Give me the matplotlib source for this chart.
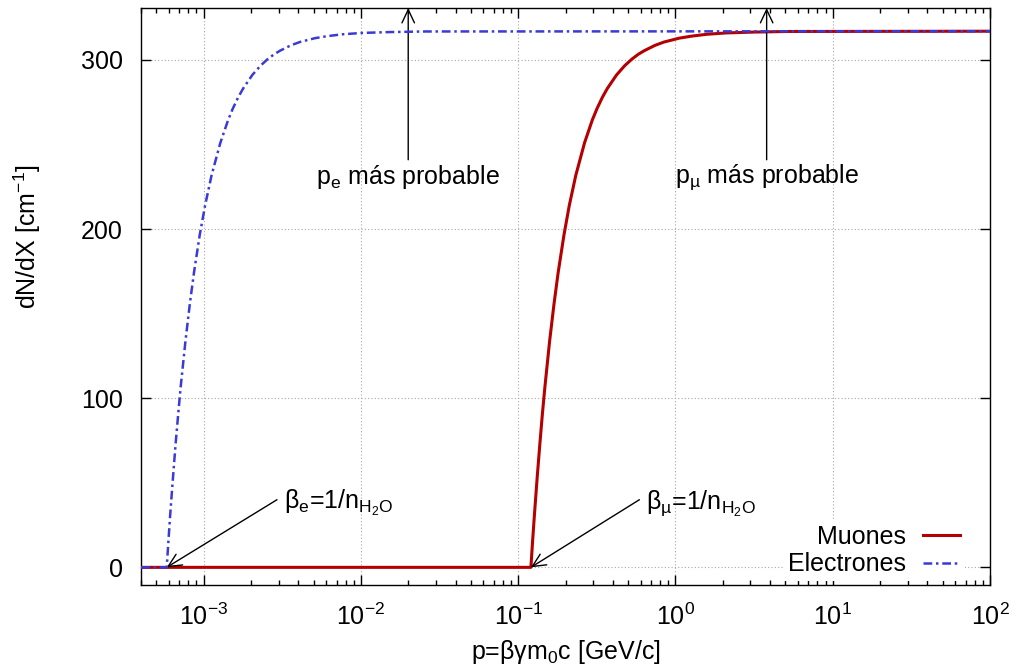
import numpy as np
import matplotlib
matplotlib.use("Agg")
import matplotlib.pyplot as plt
from matplotlib.ticker import LogLocator, NullFormatter

# momentum [GeV/c] and photon yield dN/dX [cm^-1]
p_electrones = [4.0e-4, 5.83e-4, 5.98e-4, 6.13e-4, 6.39e-4, 6.64e-4, 6.90e-4, 7.15e-4,
                7.67e-4, 8.18e-4, 8.69e-4, 9.45e-4, 1.022e-3, 1.124e-3, 1.278e-3,
                1.431e-3, 1.533e-3, 1.661e-3, 1.789e-3, 2.044e-3, 2.300e-3, 2.555e-3,
                2.811e-3, 3.066e-3, 3.577e-3, 4.088e-3, 5.11e-3, 6.13e-3, 7.67e-3,
                1.022e-2, 1.533e-2, 2.555e-2, 100.0]
dndx_electrones = [0, 0, 15.8, 30.7, 53.1, 73.0, 90.8, 106.6, 133.8, 155.9, 174.3,
                   196.5, 213.9, 231.8, 251.0, 264.4, 271.2, 278.0, 283.3, 291.2,
                   296.6, 300.5, 303.4, 305.5, 308.6, 310.6, 312.9, 314.1, 315.2,
                   316.0, 316.5, 316.85, 317.0]

p_muones = [4.0e-4, 0.1205, 0.1236, 0.1268, 0.1321, 0.1374, 0.1426, 0.1479, 0.1585,
            0.1691, 0.1796, 0.1955, 0.2113, 0.2325, 0.2642, 0.2958, 0.3170, 0.3434,
            0.3698, 0.4226, 0.4755, 0.5283, 0.5811, 0.6340, 0.7396, 0.8453, 1.057,
            1.268, 1.585, 2.113, 3.170, 5.283, 100.0]
dndx_muones = [0, 0, 15.8, 30.7, 53.1, 73.0, 90.8, 106.6, 133.8, 155.9, 174.3,
               196.5, 213.9, 231.8, 251.0, 264.4, 271.2, 278.0, 283.3, 291.2,
               296.6, 300.5, 303.4, 305.5, 308.6, 310.6, 312.9, 314.1, 315.2,
               316.0, 316.5, 316.85, 317.0]

# annotations
p_mas_probable_e = 0.02
p_mas_probable_mu = 3.8
p_umbral_e = 5.83e-4
p_umbral_mu = 0.1205

plt.rcParams['font.family'] = ['Liberation Sans', 'DejaVu Sans']
plt.rcParams['mathtext.fontset'] = 'custom'
plt.rcParams['mathtext.rm'] = 'Liberation Sans'
plt.rcParams['mathtext.it'] = 'Liberation Sans:italic'
plt.rcParams['font.size'] = 18

fig = plt.figure(figsize=(10.15, 6.71), dpi=100)
ax = fig.add_subplot(111)
fig.subplots_adjust(left=0.1389, right=0.9754, top=0.988, bottom=0.128)

ax.plot(p_muones, dndx_muones, color='#b40000', lw=2.2, label='Muones', zorder=3)
ax.plot(p_electrones, dndx_electrones, color='#3a3ad8', lw=1.8,
        ls=(0, (3.5, 1.5, 1, 1.5)), label='Electrones', zorder=4)

ax.set_xscale('log')
ax.set_xlim(4.0e-4, 100)
ax.set_ylim(-10.5, 330.7)
ax.set_yticks([0, 100, 200, 300])
ax.xaxis.set_major_locator(LogLocator(base=10, numticks=20))
ax.xaxis.set_minor_locator(LogLocator(base=10, subs=np.arange(2, 10), numticks=20))
ax.xaxis.set_minor_formatter(NullFormatter())
ax.tick_params(which='major', direction='in', length=7, width=1, top=True, right=True)
ax.tick_params(which='minor', direction='in', length=3.5, width=1, top=True, right=False)
ax.tick_params(axis='x', which='major', pad=13)
ax.tick_params(axis='y', which='major', pad=13)
for s in ax.spines.values():
    s.set_linewidth(1.0)
ax.grid(True, which='major', color='#a8a8a8', ls=(0, (1, 2)), lw=0.8)

ax.set_xlabel(r'p=$\mathregular{βγm_0}$c [GeV/c]', labelpad=6)
ax.set_ylabel(r'dN/dX [cm$\mathregular{^{-1}}$]')
ax.yaxis.set_label_coords(-0.115, 0.604)

arrow = dict(arrowstyle='->,head_length=0.95,head_width=0.45', color='black', lw=1.0,
             mutation_scale=10, shrinkA=0, shrinkB=0)
ax.annotate('', xy=(p_mas_probable_e, 330.7), xytext=(p_mas_probable_e, 241), arrowprops=arrow)
ax.text(p_mas_probable_e, 230.8, r'$\mathregular{p_e}$ más probable', ha='center', va='center')
ax.annotate('', xy=(p_mas_probable_mu, 330.7), xytext=(p_mas_probable_mu, 241), arrowprops=arrow)
ax.text(p_mas_probable_mu, 230.8, r'$\mathregular{p_µ}$ más probable', ha='center', va='center')

ax.annotate('', xy=(p_umbral_e, 0), xytext=(2.93e-3, 40), arrowprops=arrow)
ax.text(3.23e-3, 38, r'$\mathregular{β_e}$=1/n$\mathregular{_{H_2O}}$', ha='left', va='center')
ax.annotate('', xy=(p_umbral_mu, 0), xytext=(0.59, 40), arrowprops=arrow)
ax.text(0.654, 38, r'$\mathregular{β_µ}$=1/n$\mathregular{_{H_2O}}$', ha='left', va='center')

leg = ax.legend(loc='lower right', bbox_to_anchor=(0.975, 0.0), markerfirst=False,
                frameon=True, fancybox=False, framealpha=1, edgecolor='none',
                handlelength=1.5, handletextpad=0.65, labelspacing=0.15,
                borderpad=0.2, borderaxespad=0.15)

fig.savefig('out.png', dpi=100)
